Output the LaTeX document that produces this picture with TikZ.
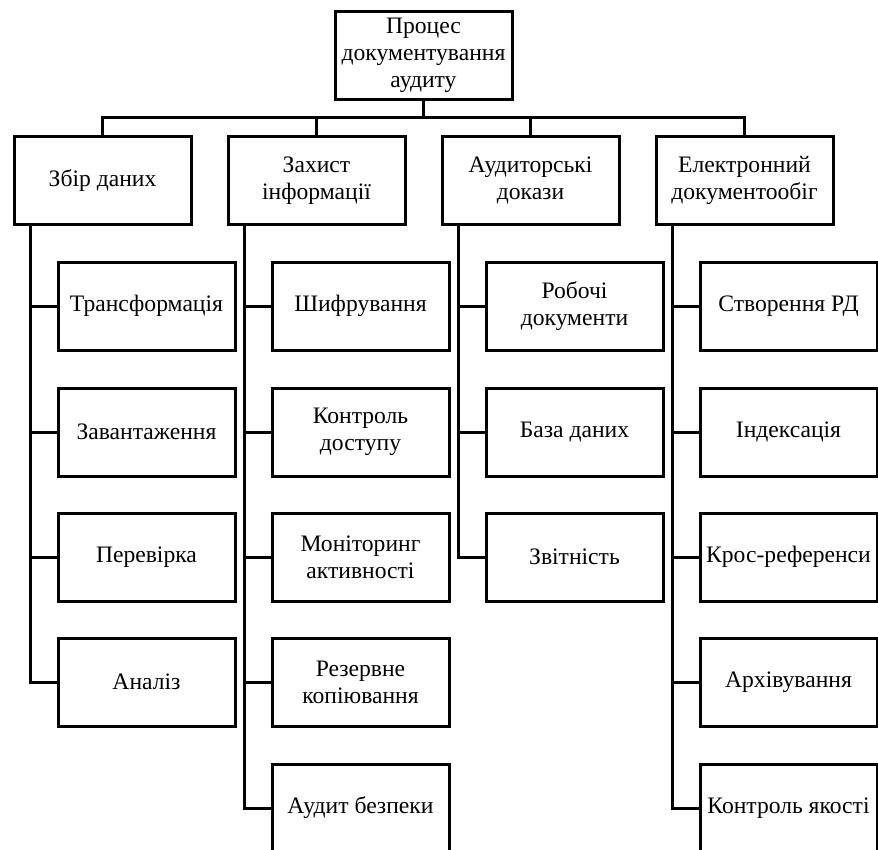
\documentclass[tikz,border=0pt]{standalone}
\usepackage{fontspec}
\setmainfont{Liberation Serif}
\begin{document}
\begin{tikzpicture}[x=1pt,y=-1pt,
  box/.style={draw=black,line width=3pt,minimum width=177pt,minimum height=88pt,
    inner sep=0pt,align=center,font=\fontsize{23.6}{27}\selectfont,fill=white},
  link/.style={draw=black,line width=3pt}]
\useasboundingbox (0,0) rectangle (878,849);
\clip (0,0) rectangle (878,849);
% root
\node[box] (root) at (423.5,55) {Процес\\документування\\аудиту};
% level 1
\node[box] (a) at (102.5,180.5) {Збір даних};
\node[box] (b) at (316.5,180.5) {Захист\\інформації};
\node[box] (c) at (530.5,180.5) {Аудиторські\\докази};
\node[box] (d) at (744.5,180.5) {Електронний\\документообіг};
\coordinate (bar) at (423.5,117.5);
\foreach \n in {a,b,c,d}{
  \draw[link] (root.south) -- (bar) -| (\n.north);
}
% level 2
\node[box] (a1) at (146.5,306) {Трансформація};
\node[box] (a2) at (146.5,432) {Завантаження};
\node[box] (a3) at (146.5,557) {Перевірка};
\node[box] (a4) at (146.5,682) {Аналіз};
\node[box] (b1) at (360.5,306) {Шифрування};
\node[box] (b2) at (360.5,432) {Контроль\\доступу};
\node[box] (b3) at (360.5,557) {Моніторинг\\активності};
\node[box] (b4) at (360.5,682) {Резервне\\копіювання};
\node[box] (b5) at (360.5,808) {Аудит безпеки};
\node[box] (c1) at (574.5,306) {Робочі\\документи};
\node[box] (c2) at (574.5,432) {База даних};
\node[box] (c3) at (574.5,557) {Звітність};
\node[box] (d1) at (788.5,306) {Створення РД};
\node[box] (d2) at (788.5,432) {Індексація};
\node[box] (d3) at (788.5,557) {Крос-референси};
\node[box] (d4) at (788.5,682) {Архівування};
\node[box] (d5) at (788.5,808) {Контроль якості};
\foreach \p/\k in {a/a1,a/a2,a/a3,a/a4,b/b1,b/b2,b/b3,b/b4,b/b5,c/c1,c/c2,c/c3,d/d1,d/d2,d/d3,d/d4,d/d5}{
  \draw[link] ([xshift=18pt]\p.south west) |- (\k.west);
}
\end{tikzpicture}
\end{document}
